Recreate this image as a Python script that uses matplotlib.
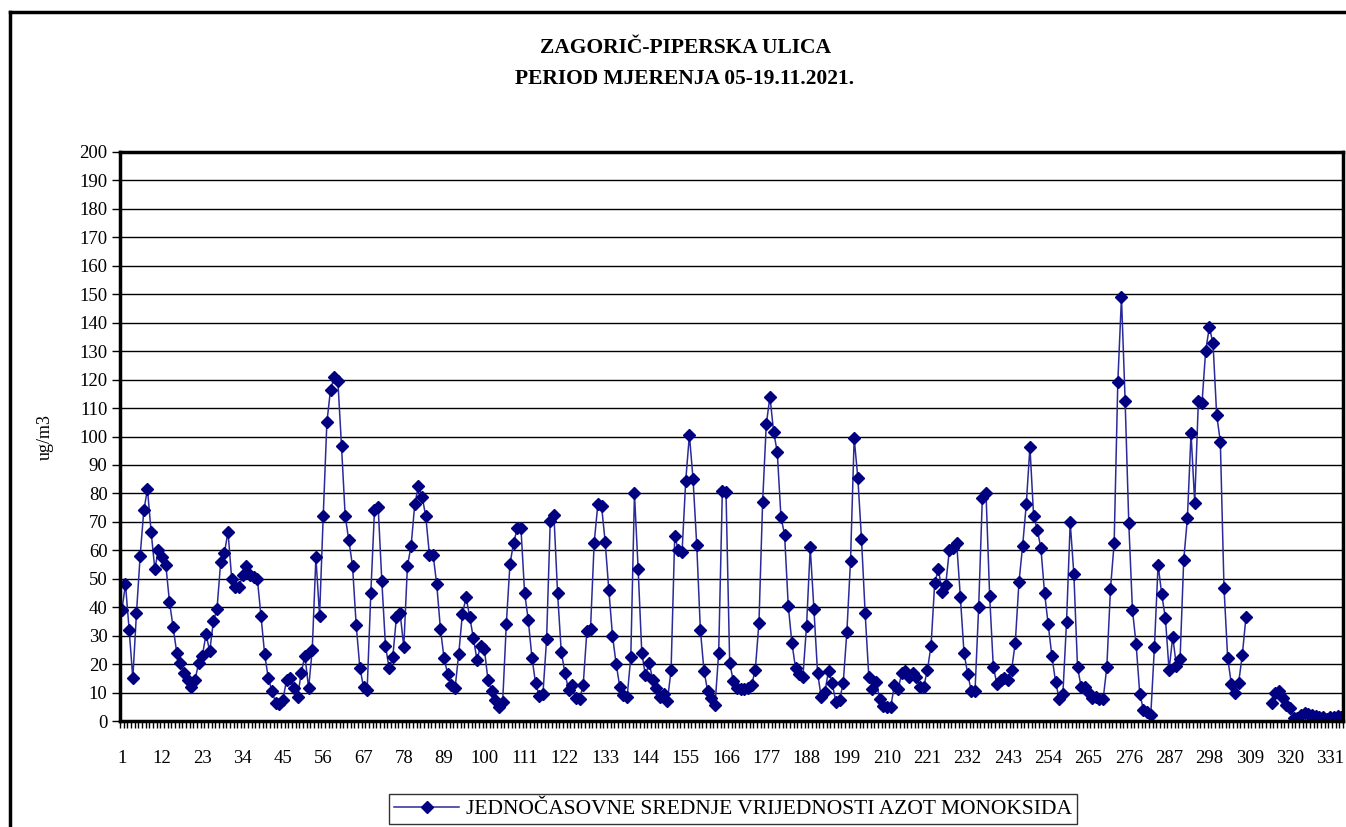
import numpy as np
import matplotlib.pyplot as plt
from matplotlib.lines import Line2D

naslov1 = "ZAGORIČ-PIPERSKA ULICA"
naslov2 = "PERIOD MJERENJA 05-19.11.2021."
serija = "JEDNOČASOVNE SREDNJE VRIJEDNOSTI AZOT MONOKSIDA"
nan = np.nan

# jednocasovne vrijednosti NO (ug/m3), sat 1..334
no_vals = [
    39, 48, 32, 15, 38, 58, 74, 81.5, 66.5, 53.5,
    60, 57.5, 55, 42, 33, 24, 20.5, 17, 14.5, 12,
    14.5, 20.5, 23, 30.5, 24.5, 35, 39.5, 56, 59, 66.5,
    50, 47, 47, 51.3, 54.5, 51.3, 50.5, 50, 37, 23.5,
    15, 10.5, 6.5, 6, 7.5, 14.5, 15, 11.5, 8.5, 17,
    23, 11.5, 25, 57.5, 37, 72, 105, 116.5, 121, 119.5,
    96.5, 72, 63.5, 54.5, 33.8, 18.8, 12, 11, 45, 74,
    75.3, 49.3, 26.5, 18.5, 22.5, 36.7, 38, 26, 54.6, 61.5,
    76.2, 82.6, 78.9, 72, 58.5, 58.5, 48, 32.5, 22, 16.5,
    12.5, 11.5, 23.5, 37.5, 43.5, 36.7, 29, 21.5, 26.5, 25.3,
    14.4, 10.6, 7.4, 5, 6.6, 34, 55.2, 62.7, 67.7, 67.7,
    45, 35.5, 22.3, 13.2, 8.8, 9.5, 28.7, 70.3, 72.4, 45,
    24.4, 17, 10.9, 12.7, 8, 7.6, 12.7, 31.5, 32.5, 62.7,
    76.2, 75.7, 63, 46, 30, 20, 12, 9, 8.5, 22.5,
    80, 53.5, 24, 16, 20.5, 14.5, 11.5, 8.5, 9.5, 7,
    18, 65, 60, 59.5, 84.5, 100.5, 85, 62, 32, 17.5,
    10.5, 8, 5.5, 24, 81, 80.5, 20.5, 14, 11.5, 11.2,
    11.2, 11.5, 12.7, 18, 34.6, 77, 104.3, 114, 101.7, 94.5,
    71.8, 65.4, 40.5, 27.4, 18.5, 16.5, 15.6, 33.5, 61, 39.5,
    17, 8.4, 10.3, 17.6, 13.2, 6.7, 7.4, 13.2, 31.2, 56.2,
    99.4, 85.5, 64, 37.9, 15.6, 11.4, 13.8, 7.7, 5.4, 5,
    5, 12.7, 11.2, 16.8, 17.6, 15.3, 16.8, 15.6, 12.1, 12.1,
    17.9, 26.5, 48.6, 53.3, 45.5, 47.8, 60.2, 60.7, 62.5, 43.6,
    23.9, 16.6, 10.4, 10.4, 40, 78.3, 80.3, 44, 19, 13,
    14.5, 15, 14.5, 18, 27.5, 48.7, 61.5, 76.1, 96.4, 72.2,
    67.3, 60.7, 44.9, 34, 22.8, 13.8, 7.7, 9.5, 34.9, 69.8,
    51.6, 18.9, 11.9, 11.9, 9.7, 8, 8.6, 7.7, 7.7, 19,
    46.5, 62.5, 119, 149, 112.5, 69.5, 39, 27, 9.5, 4,
    3, 2, 26, 55, 44.5, 36.1, 17.9, 29.6, 19.4, 21.7,
    56.6, 71.2, 101.1, 76.7, 112.5, 111.9, 130.2, 138.4, 132.7, 107.6,
    98.2, 46.9, 22.3, 13, 9.7, 13.5, 23.2, 36.5, nan, nan,
    nan, nan, nan, nan, 6.5, 10, 10.5, 8, 5.5, 4.5,
    1, 1, 2, 2.7, 2.3, 2.1, 1.8, 1.5, 1.5, 0.8,
    1.5, 1.5, 1.8, 1.5,
]
sati = np.arange(1, len(no_vals) + 1)
oznake = sati[::11]

plt.rcParams['font.family'] = ['Liberation Serif', 'DejaVu Serif']

W, H = 1346, 827
fig = plt.figure(figsize=(W / 100, H / 100), dpi=100)
ax = fig.add_axes([120 / W, 1 - 721 / H, (1343 - 120) / W, (721 - 152) / H])

ax.plot(sati, no_vals, color='#2a2a9a', lw=1.1, marker='D', ms=6,
        mfc='#000080', mec='#000080', label=serija)

ax.set_xlim(0.5, len(no_vals) + 0.5)
ax.set_ylim(0, 200)
ax.set_yticks(range(0, 201, 10))
ax.yaxis.grid(True, color='black', lw=1)
ax.set_axisbelow(True)

ax.set_xticks(oznake)
ax.set_xticks(np.arange(0.5, len(no_vals) + 1), minor=True)
ax.tick_params(axis='x', which='major', length=0, pad=21, labelsize=13.5)
ax.tick_params(axis='x', which='minor', length=5, width=1, direction='out')
ax.tick_params(axis='y', length=6, width=1, pad=3, labelsize=13.5)
for s in ax.spines.values():
    s.set_linewidth(2.5)

fig.text(45 / W, 1 - 437 / H, 'ug/m3', rotation=90, ha='center', va='center', fontsize=13)
fig.text(685 / W, 1 - 48 / H, naslov1, ha='center', va='center', fontsize=15.5, fontweight='bold')
fig.text(685 / W, 1 - 79 / H, naslov2, ha='center', va='center', fontsize=15.5, fontweight='bold')

leg = fig.legend(loc='center', bbox_to_anchor=(733 / W, 1 - 809 / H), frameon=True,
                 fancybox=False, edgecolor='black', fontsize=15.5, handlelength=3,
                 borderpad=0.25, handletextpad=0.3)
leg.get_frame().set_linewidth(1)

# okvir grafikona
fig.add_artist(Line2D([10 / W, 1], [1 - 12 / H] * 2, transform=fig.transFigure, color='black', lw=2.5))
fig.add_artist(Line2D([10 / W] * 2, [0, 1 - 12 / H], transform=fig.transFigure, color='black', lw=2.5))

fig.savefig('out.png', dpi=100)
